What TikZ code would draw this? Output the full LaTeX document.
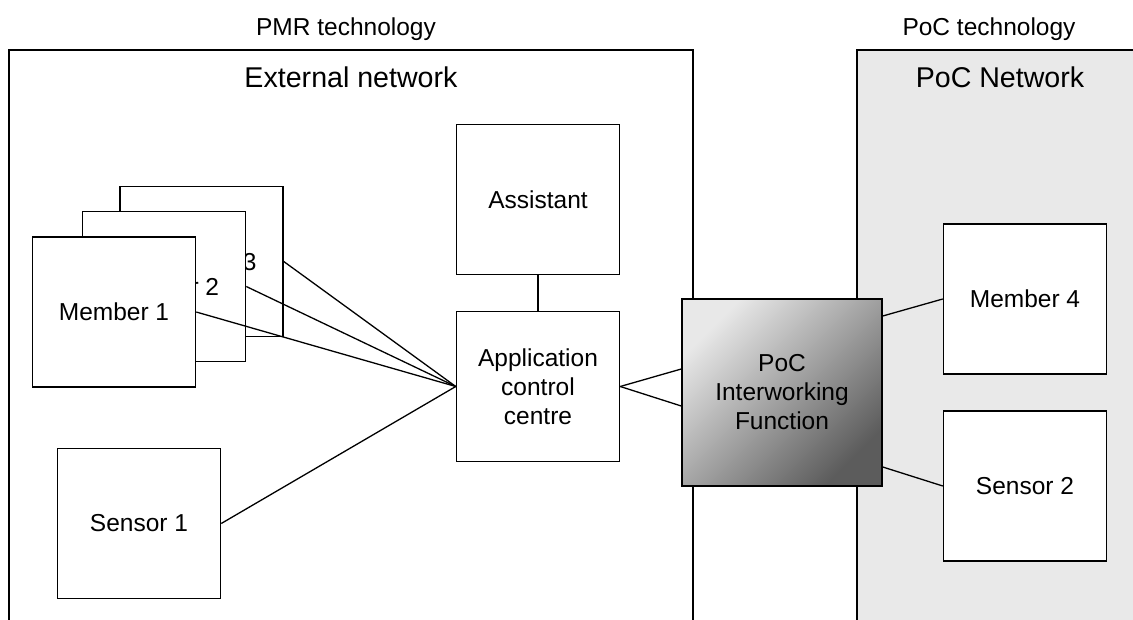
\documentclass[tikz,border=0pt]{standalone}
\usepackage{fontspec}
\setmainfont{Liberation Sans}
\definecolor{pocbg}{HTML}{E9E9E9}
\definecolor{iwflight}{HTML}{E8E8E8}
\definecolor{iwfdark}{HTML}{5C5C5C}
\begin{document}
\begin{tikzpicture}[x=1pt,y=-1pt,
  box/.style={draw=black, fill=white, line width=1.5pt, minimum width=163pt,
    minimum height=150pt, inner sep=0pt, font=\fontsize{24.5}{29}\selectfont, align=center},
  frame/.style={line width=1.5pt},
  title/.style={font=\fontsize{24.5}{29}\selectfont, anchor=base, inner sep=0pt},
  bigtitle/.style={font=\fontsize{28.6}{34}\selectfont, anchor=base, inner sep=0pt},
  conn/.style={line width=1.3pt}]
\useasboundingbox (0,0) rectangle (1133,620);
\fill[pocbg] (857,50) rectangle (1140,625);
\draw[frame] (857,625) -- (857,50) -- (1140,50);
\draw[frame] (9,625) -- (9,50) -- (693,50) -- (693,625);

\node[title] (pmr) at (346,36) {PMR technology};
\node[title] (poct) at (989,36) {PoC technology};
\node[bigtitle] (ext) at (351,88) {External network};
\node[bigtitle] (pocn) at (1000,88) {PoC Network};

\node[box] (asst) at (538,199.5) {Assistant};
\node[box] (app) at (538,386.5) {Application\\control\\centre};
\node[box] (m3) at (201.5,261.5) {Member 3};
\node[box] (m2) at (164,286.5) {Member 2};
\node[box] (m1) at (114,312) {Member 1};
\node[box] (s1) at (139,523.5) {Sensor 1};
\node[box, fill=none, minimum width=200pt, minimum height=187pt,
  top color=iwflight, bottom color=iwfdark, shading angle=45] (iwf) at (782,392.5)
  {PoC\\Interworking\\Function};
\node[box] (m4) at (1025,299) {Member 4};
\node[box] (s2) at (1025,486) {Sensor 2};

\draw[conn] (asst.south) -- (app.north);
\draw[conn] (m3.east) -- (app.west);
\draw[conn] (m2.east) -- (app.west);
\draw[conn] (m1.east) -- (app.west);
\draw[conn] (s1.east) -- (app.west);
\draw[conn] (app.east) -- ([yshift=23.5pt]iwf.west);
\draw[conn] (app.east) -- ([yshift=-13.5pt]iwf.west);
\draw[conn] ([yshift=76.5pt]iwf.east) -- (m4.west);
\draw[conn] ([yshift=-74.5pt]iwf.east) -- (s2.west);
\end{tikzpicture}
\end{document}
